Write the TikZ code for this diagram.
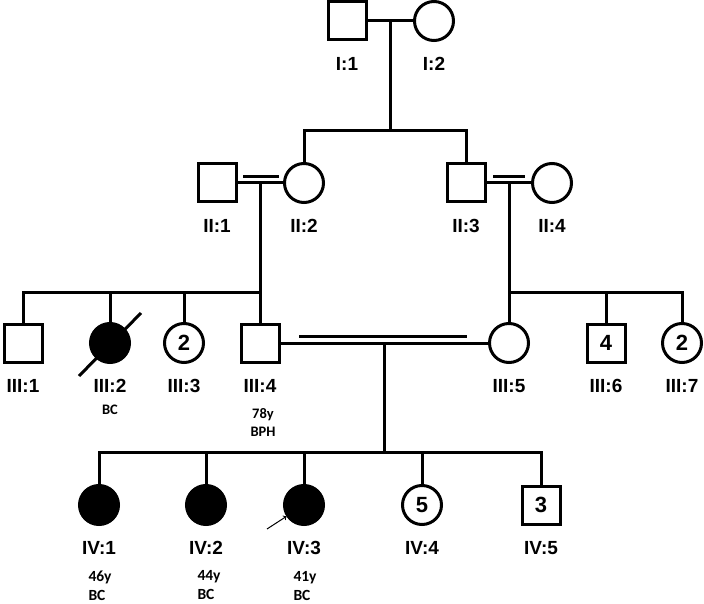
\documentclass[tikz,border=0pt]{standalone}
\usepackage{fontspec}
\setmainfont{Liberation Sans}
\newfontfamily\notefont{Carlito}
\begin{document}
\begin{tikzpicture}[x=1pt,y=-1pt,line width=3pt,
  male/.style={shape=rectangle,draw=black,minimum size=38pt,inner sep=0pt,font=\fontsize{22}{22}\selectfont\bfseries},
  female/.style={circle,draw=black,minimum size=39pt,inner sep=0pt,font=\fontsize{22}{22}\selectfont\bfseries},
  every label/.style={font=\fontsize{19}{19}\selectfont\bfseries,inner sep=0pt},
  label distance=14pt,
  note/.style={font=\notefont\fontsize{14.5}{18}\selectfont\bfseries,align=center,inner sep=0pt},
  noteiv/.style={font=\notefont\fontsize{15.5}{19}\selectfont\bfseries,align=left,inner sep=0pt,anchor=north west}]
\useasboundingbox (0,0) rectangle (704,604);

\node[male,label={below:I:1}] (I1) at (347,21){};
\node[female,label={below:I:2}] (I2) at (434,21){};

\node[male,label={below:II:1}] (II1) at (217,183){};
\node[female,label={below:II:2}] (II2) at (304,183){};
\node[male,label={below:II:3}] (II3) at (466,183){};
\node[female,label={below:II:4}] (II4) at (552,183){};

\node[male,label={below:III:1}] (III1) at (23,343){};
\node[female,fill=black,label={below:III:2}] (III2) at (110,343){};
\node[female,label={below:III:3}] (III3) at (184,343){2};
\node[male,label={below:III:4}] (III4) at (260,343){};
\node[female,label={below:III:5}] (III5) at (509,343){};
\node[male,label={below:III:6}] (III6) at (606,343){4};
\node[female,label={below:III:7}] (III7) at (682,343){2};

\node[female,fill=black,label={below:IV:1}] (IV1) at (99,505){};
\node[female,fill=black,label={below:IV:2}] (IV2) at (206,505){};
\node[female,fill=black,label={below:IV:3}] (IV3) at (304,505){};
\node[female,label={below:IV:4}] (IV4) at (422,505){5};
\node[male,label={below:IV:5}] (IV5) at (541,505){3};

% notes
\node[note] (nIII2) at (110,410) {BC};
\node[note] (nIII4) at (263,422) {78y\\BPH};
\node[noteiv] (nIV1) at (87,569) {46y\\BC};
\node[noteiv] (nIV2) at (196,569) {44y\\BC};
\node[noteiv] (nIV3) at (292,570) {41y\\BC};

% marriages and sibships
\coordinate (m0) at (390,21); \coordinate (s0) at (390,131);
\coordinate (m1) at (260,183); \coordinate (c1a) at (243,177); \coordinate (c1b) at (279,177);
\coordinate (m2) at (509,183); \coordinate (c2a) at (493,177); \coordinate (c2b) at (525,177);
\coordinate (m3) at (384,343); \coordinate (c3a) at (299,336); \coordinate (c3b) at (467,336);
\coordinate (s1) at (260,292); \coordinate (s2) at (509,292); \coordinate (s3) at (384,452);

\path [-] (I1) edge (I2);
\path [-] (m0) edge (s0);
\draw (II2) |- (s0) -| (II3);

\path [-] (II1) edge (II2); \path [-] (c1a) edge (c1b);
\path [-] (II3) edge (II4); \path [-] (c2a) edge (c2b);
\path [-] (m1) edge (III4);
\path [-] (m2) edge (III5);
\draw (III1) |- (s1);
\path [-] (III2) edge (III2 |- s1);
\path [-] (III3) edge (III3 |- s1);
\draw (III7) |- (s2);
\path [-] (III6) edge (III6 |- s2);

\path [-] (III4) edge (III5); \path [-] (c3a) edge (c3b);
\path [-] (m3) edge (s3);
\draw (IV1) |- (s3) -| (IV5);
\path [-] (IV2) edge (IV2 |- s3);
\path [-] (IV3) edge (IV3 |- s3);
\path [-] (IV4) edge (IV4 |- s3);

% deceased, proband
\coordinate (d1) at (79,376); \coordinate (d2) at (141,313);
\path [-] (d1) edge (d2);
\coordinate (pb) at (267,529);
\draw[->,line width=1pt] (pb) -- (IV3);
\end{tikzpicture}
\end{document}
